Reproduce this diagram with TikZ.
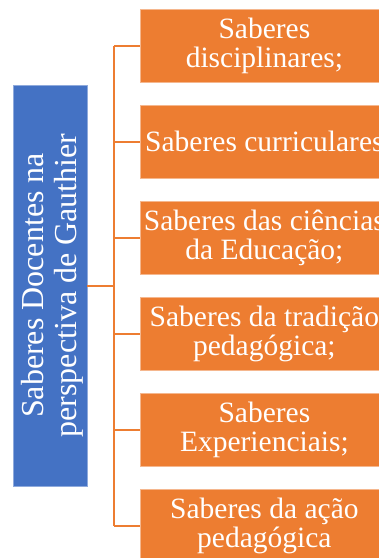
\documentclass[tikz,border=0pt]{standalone}
\usepackage{fontspec}
\setmainfont{Liberation Serif}
\definecolor{org}{HTML}{ED7D31}
\definecolor{blu}{HTML}{4472C4}
\begin{document}
\begin{tikzpicture}[x=1pt,y=-1pt,
  leaf/.style={fill=org, draw=org!55!white, line width=0.8pt, minimum width=248pt, minimum height=73pt,
    anchor=west, text=white, align=center, font=\fontsize{29.5}{29}\selectfont, inner sep=0pt},
  rootbox/.style={fill=blu, draw=blu!60!white, line width=0.8pt, minimum width=74pt, minimum height=401pt, inner sep=0pt},
  roottext/.style={rotate=90, text=white, align=center, font=\fontsize{32}{33}\selectfont},
  conn/.style={draw=org, line width=2pt}]
\useasboundingbox (0,0) rectangle (379,558);
\clip (0,0) rectangle (379,558);
\node[rootbox] (root) at (50,285.5) {};
\node[roottext] (rt) at ([xshift=2pt]root.center) {Saberes Docentes na\\perspectiva de Gauthier};
\node[leaf] (l1) at (140,45.5) {Saberes\\disciplinares;};
\node[leaf] (l2) at (140,141.5) {Saberes curriculares};
\node[leaf] (l3) at (140,237.5) {Saberes das ciências\\da Educação;};
\node[leaf] (l4) at (140,333.5) {Saberes da tradição\\pedagógica;};
\node[leaf] (l5) at (140,429.5) {Saberes\\Experienciais;};
\node[leaf] (l6) at (140,525.5) {Saberes da ação\\pedagógica};
\coordinate (j) at (114,285.5);
\draw[conn] (root.east) -- (j);
\draw[conn] (l1.west -| j) -- (l6.west -| j);
\foreach \n in {l1,l2,l3,l4,l5,l6}{\draw[conn] (\n.west -| j) -- (\n.west);}
\end{tikzpicture}
\end{document}
